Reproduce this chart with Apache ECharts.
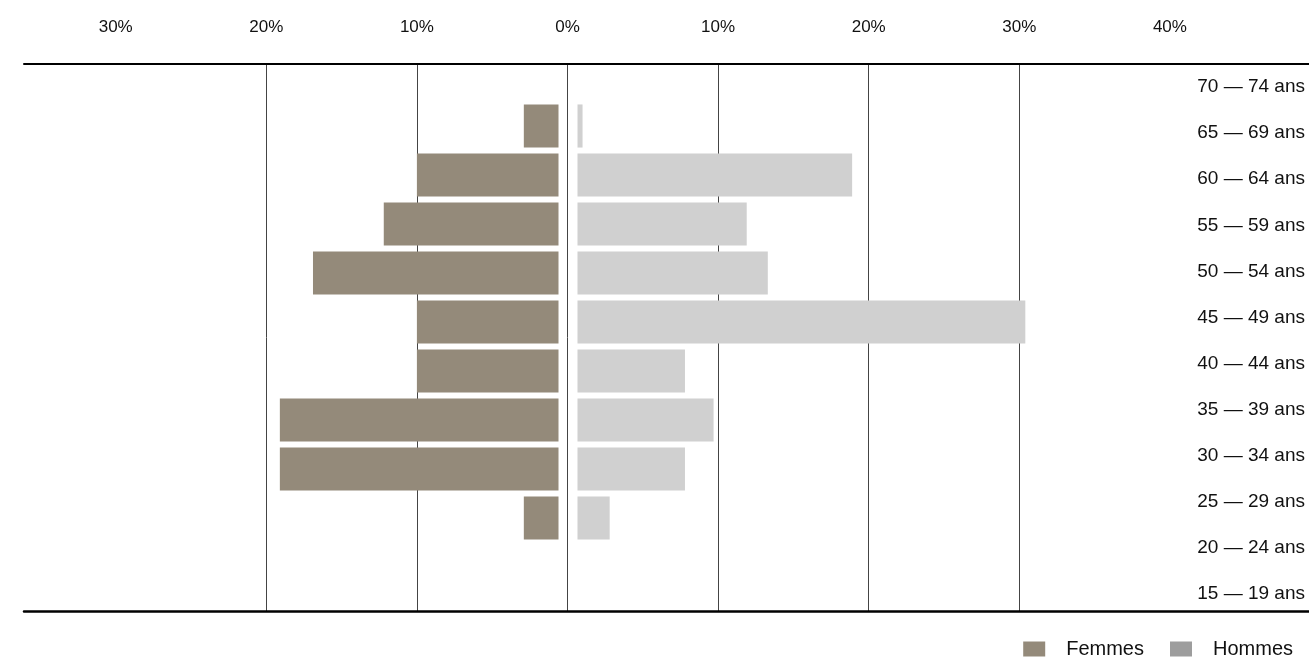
<!DOCTYPE html>
<html>
<head>
<meta charset="utf-8">
<script src="https://cdn.jsdelivr.net/npm/echarts@6/dist/echarts.min.js"></script>
<style>
  html, body { margin: 0; padding: 0; background: #fff; }
  #chart { width: 1309px; height: 664px; }
</style>
</head>
<body>
<div id="chart"></div>
<script>
// tranches d'âge, du haut vers le bas
const ageGroups = [
  "70 — 74 ans", "65 — 69 ans", "60 — 64 ans", "55 — 59 ans",
  "50 — 54 ans", "45 — 49 ans", "40 — 44 ans", "35 — 39 ans",
  "30 — 34 ans", "25 — 29 ans", "20 — 24 ans", "15 — 19 ans"
];
// part en % (null = pas de barre)
const femmes = [null, 2.9, 10, 12.2, 16.9, 10, 10, 19.1, 19.1, 2.9, null, null];
const hommes = [null, 1.0, 18.9, 11.9, 13.3, 30.4, 7.8, 9.7, 7.8, 2.8, null, null];
const ticks = [-30, -20, -10, 0, 10, 20, 30, 40];

const FONT = "Liberation Sans";
const COL_F = "#948a7a";
const COL_H = "#d0d0d0";

const chart = echarts.init(document.getElementById("chart"));

// barre décollée de l'axe 0 : bord extérieur sur la vraie valeur
function renderBar(params, api) {
  const value = api.value(0);
  const cat = api.value(1);
  const outer = api.coord([value, cat]);
  const zero = api.coord([0, cat]);
  const h = api.size([0, 1])[1] * 0.88;
  const inner = value < 0 ? zero[0] - 9 : zero[0] + 10;
  return {
    type: "rect",
    shape: {
      x: Math.min(outer[0], inner),
      y: outer[1] - h / 2,
      width: Math.abs(outer[0] - inner),
      height: h
    },
    style: api.style()
  };
}

function toData(values, sign) {
  const out = [];
  values.forEach((v, i) => {
    if (v != null) out.push([sign * v, ageGroups[i]]);
  });
  return out;
}

const hidden = { show: false };
// pas de ligne aux deux extrémités (-30 et 40)
const splitColors = ticks.map((t) => (t === ticks[0] || t === ticks[ticks.length - 1]) ? "transparent" : "#444");

chart.setOption({
  animation: false,
  textStyle: { fontFamily: FONT },
  grid: [
    // échelle + lignes verticales
    { left: 115.7, right: 139.1, top: 64, bottom: 53 },
    // cadre (lignes haut / bas)
    { left: 24, right: 0, top: 64, bottom: 53 },
    // libellés d'âge
    { left: 24, right: 0, top: 64, height: 553 },
    // barres
    { left: 115.7, right: 139.1, top: 52.5, height: 588 }
  ],
  xAxis: [
    {
      gridIndex: 0, type: "value", position: "top",
      min: -30, max: 40, interval: 10,
      axisLine: { show: false }, axisTick: { show: false },
      axisLabel: {
        margin: 28, fontSize: 17, color: "#111", fontFamily: FONT,
        formatter: (v) => Math.abs(v) + "%"
      },
      splitLine: { show: true, lineStyle: { color: splitColors, width: 1 } }
    },
    {
      gridIndex: 1, type: "value", position: "top", min: 0, max: 1,
      axisLine: { show: true, onZero: false, lineStyle: { color: "#000", width: 2 } },
      axisTick: hidden, axisLabel: hidden, splitLine: hidden
    },
    {
      gridIndex: 1, type: "value", position: "bottom", min: 0, max: 1,
      axisLine: { show: true, onZero: false, lineStyle: { color: "#000", width: 2.5 } },
      axisTick: hidden, axisLabel: hidden, splitLine: hidden
    },
    { gridIndex: 2, type: "value", min: 0, max: 1, show: false },
    { gridIndex: 3, type: "value", min: -30, max: 40, show: false }
  ],
  yAxis: [
    { gridIndex: 0, type: "value", min: 0, max: 1, show: false },
    { gridIndex: 1, type: "value", min: 0, max: 1, show: false },
    {
      gridIndex: 2, type: "category", data: ageGroups, inverse: true,
      position: "right",
      axisLine: hidden, axisTick: hidden, splitLine: hidden,
      axisLabel: { inside: true, margin: 4, fontSize: 19, color: "#111", fontFamily: FONT }
    },
    { gridIndex: 3, type: "category", data: ageGroups, inverse: true, show: false }
  ],
  legend: {
    data: [
      { name: "Femmes" },
      { name: "Hommes", itemStyle: { color: "#9d9d9d" } }
    ],
    right: 11, top: 634,
    icon: "rect", itemWidth: 22, itemHeight: 15, itemGap: 26,
    selectedMode: false,
    textStyle: { fontFamily: FONT, fontSize: 20, color: "#111", padding: [0, 0, 0, 16] }
  },
  series: [
    {
      name: "Femmes", type: "custom", coordinateSystem: "cartesian2d",
      xAxisIndex: 4, yAxisIndex: 3,
      itemStyle: { color: COL_F },
      encode: { x: 0, y: 1 },
      renderItem: renderBar,
      data: toData(femmes, -1)
    },
    {
      name: "Hommes", type: "custom", coordinateSystem: "cartesian2d",
      xAxisIndex: 4, yAxisIndex: 3,
      itemStyle: { color: COL_H },
      encode: { x: 0, y: 1 },
      renderItem: renderBar,
      data: toData(hommes, 1)
    }
  ]
});
</script>
</body>
</html>
